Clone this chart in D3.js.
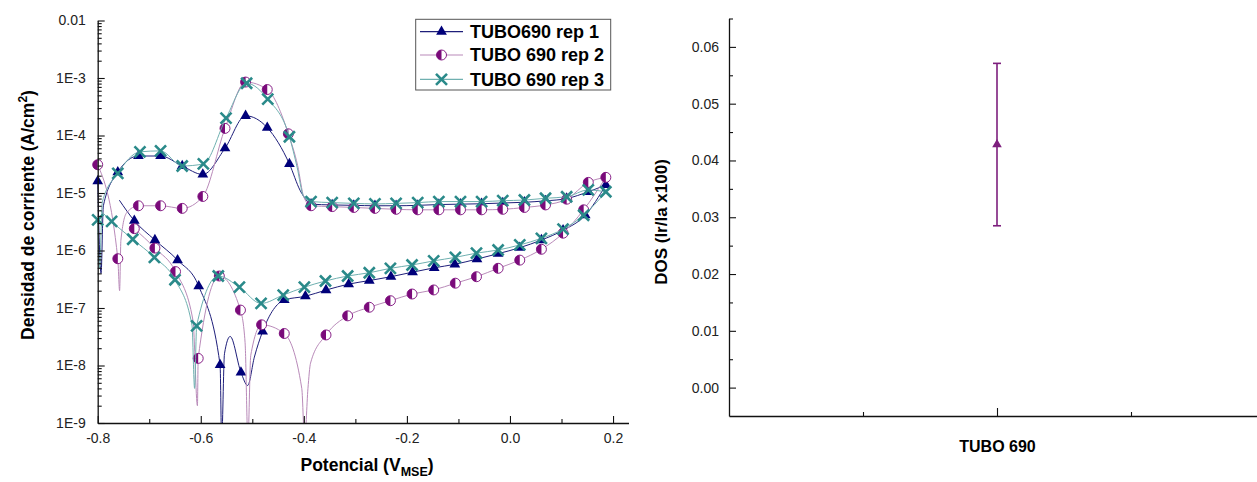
<!DOCTYPE html>
<html>
<head>
<meta charset="utf-8">
<script src="https://cdn.jsdelivr.net/npm/d3@7"></script>
<style>
  body { margin: 0; background: #fff; }
  svg { display: block; font-family: "Liberation Sans", Arial, Helvetica, sans-serif; }
</style>
</head>
<body>
<svg id="chart" width="1257" height="482"></svg>
<script>
// ===== DL-EPR polarization curves =====
const seriesNames = ["TUBO690 rep 1", "TUBO 690 rep 2", "TUBO 690 rep 3"];

// Symbol readings [potential (V MSE), current density (A/cm2)]
// forward (anodic) sweep
const rep1Fwd = [[-0.800,1.6e-5],[-0.761,2.3e-5],[-0.721,4.4e-5],[-0.678,4.4e-5],[-0.636,2.95e-5],[-0.596,2.1e-5],
  [-0.553,6.0e-5],[-0.513,2.2e-4],[-0.471,1.37e-4],[-0.428,3.2e-5],[-0.386,6.4e-6],[-0.345,6.2e-6],[-0.303,6.1e-6],
  [-0.262,6.0e-6],[-0.221,6.0e-6],[-0.179,6.1e-6],[-0.138,6.3e-6],[-0.096,6.4e-6],[-0.055,6.5e-6],[-0.014,6.7e-6],
  [0.028,6.9e-6],[0.069,7.3e-6],[0.110,8.0e-6],[0.152,1.05e-5]];
// reverse (reactivation) sweep
const rep1Rev = [[0.186,1.38e-5],[0.146,4.1e-6],[0.103,2.25e-6],[0.061,1.52e-6],[0.019,1.12e-6],[-0.023,8.8e-7],
  [-0.064,7.1e-7],[-0.107,5.75e-7],[-0.147,5.0e-7],[-0.189,4.2e-7],[-0.231,3.5e-7],[-0.273,3.0e-7],[-0.313,2.6e-7],
  [-0.357,2.05e-7],[-0.397,1.6e-7],[-0.438,1.38e-7],[-0.480,3.9e-8],[-0.522,7.6e-9],[-0.5625,1.02e-8],[-0.604,2.4e-7],
  [-0.645,6.8e-7],[-0.689,1.52e-6],[-0.729,3.3e-6]];
// readings between symbols (zero-current cusps, knees, sweep ends)
const rep1FwdExtra = [[-0.7935,4e-7],[-0.789,6e-6],[-0.407,1.1e-5],[-0.3955,7.6e-6]];
const rep1RevExtra = [[-0.5595,5e-10],[-0.554,1.6e-8],[-0.543,3.2e-8],[-0.509,4.5e-9],[-0.496,1.4e-8],[-0.758,7.5e-6]];

const rep2Fwd = [[-0.800,3.1e-5],[-0.761,7.2e-7],[-0.721,6.0e-6],[-0.678,6.0e-6],[-0.636,5.4e-6],[-0.596,8.7e-6],
  [-0.553,1.33e-4],[-0.513,8.5e-4],[-0.471,6.3e-4],[-0.430,1.07e-4],[-0.386,6.0e-6],[-0.345,5.8e-6],[-0.303,5.6e-6],
  [-0.262,5.4e-6],[-0.221,5.2e-6],[-0.179,5.1e-6],[-0.138,5.1e-6],[-0.096,5.1e-6],[-0.055,5.1e-6],[-0.014,5.2e-6],
  [0.028,5.6e-6],[0.069,6.2e-6],[0.110,7.8e-6],[0.152,1.53e-5]];
const rep2Rev = [[0.186,1.87e-5],[0.143,5.1e-6],[0.103,2.0e-6],[0.061,1.05e-6],[0.019,6.8e-7],[-0.023,4.9e-7],
  [-0.065,3.5e-7],[-0.106,2.7e-7],[-0.148,2.06e-7],[-0.190,1.75e-7],[-0.232,1.34e-7],[-0.273,1.03e-7],[-0.315,7.3e-8],
  [-0.357,3.4e-8],[-0.438,3.6e-8],[-0.482,5.1e-8],[-0.523,9.2e-8],[-0.564,3.6e-7],[-0.605,1.33e-8],[-0.649,4.3e-7],
  [-0.689,1.1e-6],[-0.729,2.4e-6]];
const rep2FwdExtra = [[-0.7575,2e-7],[-0.755,1.5e-6],[-0.744,4.5e-6],[-0.412,3.0e-5],[-0.400,8.5e-6]];
const rep2RevExtra = [[-0.404,4e-9],[-0.3985,5e-10],[-0.392,4e-9],[-0.387,1.1e-8],[-0.514,2.5e-8],[-0.5085,5e-10],
  [-0.503,1.5e-8],[-0.6065,2e-9],[-0.615,6e-8]];

const rep3Fwd = [[-0.800,3.4e-6],[-0.761,2.2e-5],[-0.718,5.2e-5],[-0.678,5.4e-5],[-0.636,2.95e-5],[-0.595,3.2e-5],
  [-0.551,2.0e-4],[-0.511,8.1e-4],[-0.470,4.3e-4],[-0.428,9.5e-5],[-0.386,7.1e-6],[-0.345,6.8e-6],[-0.303,6.6e-6],
  [-0.262,6.45e-6],[-0.221,6.6e-6],[-0.179,6.8e-6],[-0.138,7.1e-6],[-0.096,7.1e-6],[-0.055,7.1e-6],[-0.014,7.35e-6],
  [0.028,7.55e-6],[0.069,8.1e-6],[0.110,8.6e-6],[0.152,1.13e-5]];
const rep3Rev = [[0.186,1.05e-5],[0.143,4.1e-6],[0.103,2.35e-6],[0.061,1.63e-6],[0.019,1.25e-6],[-0.023,1.02e-6],
  [-0.065,9.0e-7],[-0.106,7.6e-7],[-0.148,6.6e-7],[-0.190,5.6e-7],[-0.232,4.9e-7],[-0.273,4.1e-7],[-0.315,3.6e-7],
  [-0.358,2.95e-7],[-0.399,2.3e-7],[-0.440,1.68e-7],[-0.483,1.2e-7],[-0.525,2.3e-7],[-0.566,3.6e-7],[-0.608,4.9e-8],
  [-0.650,3.1e-7],[-0.690,7.6e-7],[-0.732,1.57e-6],[-0.773,3.2e-6]];
const rep3FwdExtra = [[-0.7965,5e-7],[-0.791,7e-6],[-0.413,2.8e-5],[-0.401,9e-6]];
const rep3RevExtra = [[-0.612,4e-9],[-0.617,5e-8],[-0.795,5e-6]];

const potentialTicks = [-0.8, -0.6, -0.4, -0.2, 0.0, 0.2];
const potentialMinorTicks = [-0.7, -0.5, -0.3, -0.1, 0.1];
const currentTicks = [1e-9, 1e-8, 1e-7, 1e-6, 1e-5, 1e-4, 1e-3, 1e-2];
const currentTickLabels = ["1E-9", "1E-8", "1E-7", "1E-6", "1E-5", "1E-4", "1E-3", "0.01"];

// ===== Degree of sensitization =====
const dosCategories = ["TUBO 690"];
const dosMean = [0.0428];
const dosError = [0.0143];
const dosTicks = [0, 0.01, 0.02, 0.03, 0.04, 0.05, 0.06];
const dosMinorTicks = [0.005, 0.015, 0.025, 0.035, 0.045, 0.055, 0.065];

// ---------------------------------------------------------------
const svg = d3.select("#chart");
const AXIS = "#111";

const series = [
  { name: seriesNames[0], fwd: rep1Fwd, rev: rep1Rev, fwdX: rep1FwdExtra, revX: rep1RevExtra,
    kind: "tri", line: "#1e1e7a", mark: "#00007a" },
  { name: seriesNames[1], fwd: rep2Fwd, rev: rep2Rev, fwdX: rep2FwdExtra, revX: rep2RevExtra,
    kind: "half", line: "#b98ab9", mark: "#7a0a7a" },
  { name: seriesNames[2], fwd: rep3Fwd, rev: rep3Rev, fwdX: rep3FwdExtra, revX: rep3RevExtra,
    kind: "cross", line: "#6fb0b0", mark: "#2a8a8a" }
];

// ---- left panel scales
const xL = d3.scaleLinear().domain([-0.8, 0.23]).range([97.7, 628.5]);
const yL = d3.scaleLog().domain([1e-9, 1e-2]).range([423, 20.5]);

svg.append("defs").append("clipPath").attr("id", "clipL")
  .append("rect").attr("x", 90).attr("y", 0).attr("width", 545).attr("height", 423);

const lineGen = d3.line().x(d => xL(d[0])).y(d => yL(d[1])).curve(d3.curveMonotoneX);

function drawMarker(g, kind, x, y, color) {
  if (kind === "tri") {
    g.append("path").attr("d", d3.symbol(d3.symbolTriangle, 50)())
      .attr("transform", `translate(${x},${y})`).attr("fill", color);
  } else if (kind === "half") {
    const r = 5;
    g.append("circle").attr("cx", x).attr("cy", y).attr("r", r)
      .attr("fill", "#fff").attr("stroke", color).attr("stroke-width", 0.9);
    g.append("path").attr("d", `M${x},${y - r}A${r},${r} 0 0,0 ${x},${y + r}Z`).attr("fill", color);
  } else {
    const s = 5.5;
    g.append("path").attr("d", `M${x - s},${y - s}L${x + s},${y + s}M${x - s},${y + s}L${x + s},${y - s}`)
      .attr("stroke", color).attr("stroke-width", 2.6).attr("fill", "none");
  }
}

const plot = svg.append("g").attr("clip-path", "url(#clipL)");
series.forEach(s => {
  const turn = s.rev[0];
  const fwdPts = s.fwd.concat(s.fwdX, [turn]).sort((a, b) => a[0] - b[0]);
  const revPts = s.rev.concat(s.revX).sort((a, b) => a[0] - b[0]);
  const g = plot.append("g");
  [fwdPts, revPts].forEach(pts => {
    g.append("path").attr("d", lineGen(pts)).attr("fill", "none")
      .attr("stroke", s.line).attr("stroke-width", 1);
  });
  s.fwd.concat(s.rev).forEach(d => drawMarker(g, s.kind, xL(d[0]), yL(d[1]), s.mark));
});

// ---- left panel axes
svg.append("g").attr("transform", `translate(${xL.range()[0]},0)`)
  .call(d3.axisLeft(yL).tickValues(currentTicks).tickFormat((d, i) => currentTickLabels[i])
    .tickSize(-7).tickSizeOuter(0).tickPadding(12));
const minorLog = [];
currentTicks.slice(0, -1).forEach(t => { for (let k = 2; k <= 9; k++) minorLog.push(t * k); });
svg.append("g").attr("transform", `translate(${xL.range()[0]},0)`)
  .call(d3.axisLeft(yL).tickValues(minorLog).tickFormat("").tickSize(-4).tickSizeOuter(0))
  .select(".domain").remove();

svg.append("g").attr("transform", `translate(0,${yL.range()[0]})`)
  .call(d3.axisBottom(xL).tickValues(potentialTicks).tickFormat(d => d.toFixed(1))
    .tickSize(-7).tickSizeOuter(0).tickPadding(10));
svg.append("g").attr("transform", `translate(0,${yL.range()[0]})`)
  .call(d3.axisBottom(xL).tickValues(potentialMinorTicks).tickFormat("").tickSize(-4).tickSizeOuter(0))
  .select(".domain").remove();

// axis titles
const yTitleL = svg.append("text").attr("transform", "translate(33.5,215) rotate(-90)")
  .attr("text-anchor", "middle").attr("font-weight", "bold").attr("font-size", 17.5).attr("fill", "#000");
yTitleL.append("tspan").text("Densidad de corriente (A/cm");
yTitleL.append("tspan").attr("font-size", 12).attr("dy", -7).text("2");
yTitleL.append("tspan").attr("dy", 7).text(")");

const xTitleL = svg.append("text").attr("x", 367).attr("y", 471)
  .attr("text-anchor", "middle").attr("font-weight", "bold").attr("font-size", 17.5).attr("fill", "#000");
xTitleL.append("tspan").text("Potencial (V");
xTitleL.append("tspan").attr("font-size", 12.5).attr("dy", 4.5).text("MSE");
xTitleL.append("tspan").attr("dy", -4.5).text(")");

// legend
const leg = svg.append("g");
leg.append("rect").attr("x", 415.7).attr("y", 19.3).attr("width", 195).attr("height", 70.7)
  .attr("fill", "#fff").attr("stroke", "#555").attr("stroke-width", 1);
const legRows = [31.7, 55, 79.3];
series.forEach((s, i) => {
  const y = legRows[i];
  leg.append("line").attr("x1", 420).attr("x2", 463).attr("y1", y).attr("y2", y)
    .attr("stroke", s.line).attr("stroke-width", 1.2);
  drawMarker(leg, s.kind, 441.5, y, s.mark);
  leg.append("text").attr("x", 470).attr("y", y).attr("dy", "0.36em")
    .attr("font-weight", "bold").attr("font-size", 18).attr("fill", "#000").text(s.name);
});

// ---- right panel
const xR = d3.scaleLinear().domain([0, 2]).range([729, 1265]);
const yR = d3.scaleLinear().domain([-0.005, 0.065]).range([416, 18.5]);

svg.append("g").attr("transform", `translate(${xR.range()[0]},0)`)
  .call(d3.axisLeft(yR).tickValues(dosTicks).tickFormat(d => d.toFixed(2))
    .tickSize(-7).tickSizeOuter(0).tickPadding(10));
svg.append("g").attr("transform", `translate(${xR.range()[0]},0)`)
  .call(d3.axisLeft(yR).tickValues(dosMinorTicks).tickFormat("").tickSize(-4).tickSizeOuter(0))
  .select(".domain").remove();

svg.append("g").attr("transform", `translate(0,${yR.range()[0]})`)
  .call(d3.axisBottom(xR).tickValues([1]).tickFormat((d, i) => dosCategories[i])
    .tickSize(-8).tickSizeOuter(0).tickPadding(25))
  .selectAll("text").attr("font-weight", "bold").attr("font-size", 16).attr("fill", "#000");
svg.append("g").attr("transform", `translate(0,${yR.range()[0]})`)
  .call(d3.axisBottom(xR).tickValues([0.5, 1.5]).tickFormat("").tickSize(-4).tickSizeOuter(0))
  .select(".domain").remove();

svg.append("text").attr("transform", "translate(667,222) rotate(-90)")
  .attr("text-anchor", "middle").attr("font-weight", "bold").attr("font-size", 17).attr("fill", "#000")
  .text("DOS (Ir/Ia x100)");

const dosColor = "#7d1f7d";
dosCategories.forEach((c, i) => {
  const cx = xR(1 + i);
  const lo = yR(dosMean[i] - dosError[i]), hi = yR(dosMean[i] + dosError[i]);
  const g = svg.append("g").attr("stroke", dosColor).attr("stroke-width", 1.6);
  g.append("line").attr("x1", cx).attr("x2", cx).attr("y1", lo).attr("y2", hi);
  g.append("line").attr("x1", cx - 4).attr("x2", cx + 4).attr("y1", lo).attr("y2", lo);
  g.append("line").attr("x1", cx - 4).attr("x2", cx + 4).attr("y1", hi).attr("y2", hi);
  svg.append("path").attr("d", d3.symbol(d3.symbolTriangle, 40)())
    .attr("transform", `translate(${cx},${yR(dosMean[i])})`).attr("fill", dosColor);
});

// common axis styling
svg.selectAll(".domain").attr("stroke", AXIS).attr("stroke-width", 1.3);
svg.selectAll(".tick line").attr("stroke", AXIS).attr("stroke-width", 1.1);
svg.selectAll(".tick text").filter(function () { return !this.getAttribute("font-weight"); })
  .attr("font-size", 14).attr("fill", "#222").attr("font-family", null);
svg.selectAll("g[font-family]").attr("font-family", null);
</script>
</body>
</html>
